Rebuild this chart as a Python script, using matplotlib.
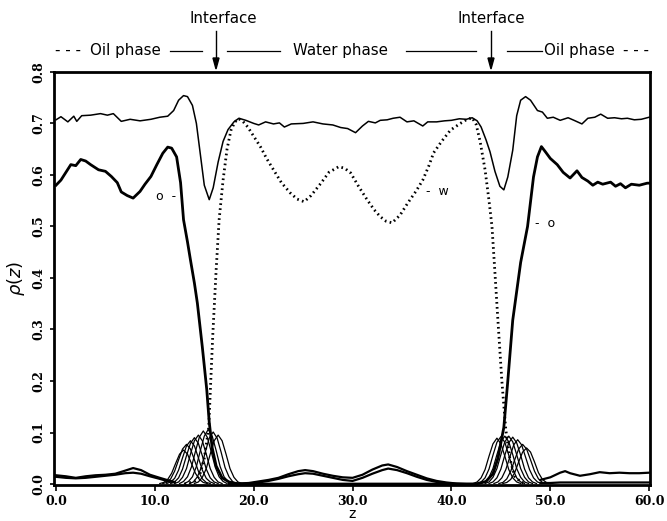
import numpy as np
import matplotlib
matplotlib.use("Agg")
import matplotlib.pyplot as plt
from matplotlib.lines import Line2D

# total density (thin solid line)
total_z = [0, 0.5, 1.2, 1.8, 2.1, 2.6, 3.5, 4.5, 5.2, 5.8, 6.6, 7.5, 8.5, 9.6, 10.5,
           11.3, 11.9, 12.4, 12.9, 13.3, 13.8, 14.2, 14.6, 15.0, 15.5, 15.9, 16.4,
           16.9, 17.4, 18.0, 18.5, 19.2, 20.0, 20.5, 21.2, 22.0, 22.6, 23.1, 23.8,
           25.0, 26.0, 27.0, 28.0, 28.8, 29.5, 30.3, 31.0, 31.6, 32.3, 32.8, 33.5,
           34.1, 34.8, 35.5, 36.2, 37.1, 37.6, 38.5, 39.3, 40.0, 40.8, 41.5, 42.1,
           42.6, 43.0, 43.5, 43.9, 44.4, 44.9, 45.3, 45.7, 46.2, 46.6, 47.0, 47.5,
           48.0, 48.7, 49.2, 49.7, 50.3, 51.0, 51.8, 52.4, 53.2, 53.8, 54.5, 55.1,
           55.8, 56.5, 57.2, 57.8, 58.5, 59.2, 60.0]
total_rho = [0.707, 0.713, 0.703, 0.714, 0.704, 0.715, 0.716, 0.719, 0.716, 0.719,
             0.704, 0.708, 0.705, 0.708, 0.712, 0.714, 0.725, 0.745, 0.754, 0.752,
             0.735, 0.700, 0.640, 0.580, 0.552, 0.575, 0.625, 0.665, 0.688, 0.703,
             0.710, 0.706, 0.700, 0.697, 0.703, 0.699, 0.701, 0.693, 0.699, 0.700,
             0.703, 0.699, 0.697, 0.692, 0.690, 0.682, 0.695, 0.704, 0.701, 0.706,
             0.707, 0.710, 0.712, 0.703, 0.705, 0.695, 0.703, 0.703, 0.705, 0.706,
             0.709, 0.708, 0.711, 0.705, 0.693, 0.668, 0.645, 0.607, 0.578, 0.571,
             0.596, 0.648, 0.715, 0.745, 0.752, 0.745, 0.725, 0.722, 0.710, 0.712,
             0.706, 0.711, 0.706, 0.699, 0.710, 0.712, 0.718, 0.710, 0.711, 0.709,
             0.710, 0.707, 0.708, 0.712]

# oil density (thick solid)
oil_z = [0, 0.5, 1.0, 1.5, 2.0, 2.5, 3.0, 3.5, 4.3, 5.0, 5.6, 6.2, 6.6, 7.2, 7.8,
         8.5, 9.0, 9.6, 10.2, 10.8, 11.3, 11.7, 12.2, 12.6, 12.9, 13.3, 13.6, 14.0,
         14.3, 14.8, 15.25, 15.5, 15.8, 16.2, 16.8, 17.5, 18.5, 42.5, 43.5, 44.2,
         44.7, 45.0, 45.3, 45.7, 46.2, 47.0, 47.7, 48.3, 48.7, 49.1, 49.5, 50.0,
         50.7, 51.3, 52.0, 52.7, 53.2, 53.8, 54.3, 54.8, 55.3, 56.1, 56.6, 57.1,
         57.6, 58.2, 59.0, 59.8, 60.0]
oil_rho = [0.580, 0.590, 0.605, 0.620, 0.618, 0.630, 0.627, 0.620, 0.610, 0.607,
           0.597, 0.585, 0.567, 0.560, 0.555, 0.568, 0.582, 0.597, 0.620, 0.642,
           0.654, 0.652, 0.635, 0.585, 0.513, 0.470, 0.435, 0.390, 0.351, 0.266,
           0.183, 0.120, 0.070, 0.035, 0.012, 0.004, 0.0, 0.0, 0.005, 0.020, 0.050,
           0.080, 0.110, 0.200, 0.318, 0.430, 0.500, 0.596, 0.635, 0.655, 0.645,
           0.632, 0.620, 0.605, 0.594, 0.608, 0.595, 0.588, 0.580, 0.586, 0.582,
           0.586, 0.578, 0.583, 0.575, 0.582, 0.580, 0.584, 0.584]

# water density (dotted)
water_z = [13.0, 14.0, 14.5, 15.0, 15.45, 15.85, 16.2, 16.5, 16.9, 17.3, 17.7, 18.1,
           18.5, 18.9, 19.4, 20.0, 20.7, 21.3, 22.0, 22.8, 23.7, 24.4, 25.1, 25.8,
           26.8, 27.6, 28.6, 29.2, 29.8, 30.6, 31.5, 32.2, 32.8, 33.4, 34.0, 34.8,
           35.6, 36.4, 37.1, 37.7, 38.2, 39.0, 39.9, 40.9, 41.5, 42.1, 42.5, 42.9,
           43.4, 43.8, 44.1, 44.4, 44.7, 45.1, 45.5, 45.9, 46.4, 47.0, 47.6]
water_rho = [0.0, 0.005, 0.015, 0.050, 0.110, 0.286, 0.416, 0.513, 0.590, 0.650,
             0.687, 0.703, 0.709, 0.704, 0.693, 0.675, 0.654, 0.632, 0.610, 0.585,
             0.565, 0.553, 0.548, 0.560, 0.584, 0.605, 0.616, 0.613, 0.604, 0.578,
             0.551, 0.532, 0.519, 0.510, 0.507, 0.522, 0.546, 0.568, 0.590, 0.617,
             0.643, 0.665, 0.687, 0.700, 0.707, 0.711, 0.698, 0.665, 0.610, 0.550,
             0.500, 0.410, 0.318, 0.200, 0.105, 0.050, 0.015, 0.004, 0.0]

# surfactant segment profiles near the interfaces
bump_dz = [-2.4, -2.0, -1.6, -1.2, -0.8, -0.4, 0.0, 0.4, 0.8, 1.2, 1.6, 2.0, 2.4]
left_centers = [12.9, 13.2, 13.6, 14.0, 14.4, 14.9, 15.4, 15.9, 16.4]
left_vals = [
    [0.001, 0.003, 0.009, 0.021, 0.040, 0.058, 0.066, 0.058, 0.040, 0.021, 0.009, 0.003, 0.001],
    [0.001, 0.003, 0.010, 0.025, 0.047, 0.068, 0.077, 0.068, 0.047, 0.025, 0.010, 0.003, 0.001],
    [0.001, 0.004, 0.011, 0.027, 0.051, 0.074, 0.084, 0.074, 0.051, 0.027, 0.011, 0.004, 0.001],
    [0.001, 0.004, 0.012, 0.029, 0.055, 0.079, 0.090, 0.079, 0.055, 0.029, 0.012, 0.004, 0.001],
    [0.001, 0.004, 0.013, 0.030, 0.058, 0.084, 0.095, 0.084, 0.058, 0.030, 0.013, 0.004, 0.001],
    [0.001, 0.005, 0.014, 0.033, 0.063, 0.091, 0.103, 0.091, 0.063, 0.033, 0.014, 0.005, 0.001],
    [0.001, 0.005, 0.014, 0.034, 0.065, 0.093, 0.106, 0.093, 0.065, 0.034, 0.014, 0.005, 0.001],
    [0.001, 0.004, 0.014, 0.032, 0.062, 0.089, 0.101, 0.089, 0.062, 0.032, 0.014, 0.004, 0.001],
    [0.001, 0.004, 0.013, 0.030, 0.058, 0.084, 0.095, 0.084, 0.058, 0.030, 0.013, 0.004, 0.001],
]
right_centers = [44.6, 45.0, 45.4, 45.8, 46.2, 46.7, 47.2, 47.6]
right_vals = [
    [0.001, 0.004, 0.012, 0.028, 0.054, 0.078, 0.089, 0.078, 0.054, 0.028, 0.012, 0.004, 0.001],
    [0.001, 0.004, 0.012, 0.029, 0.056, 0.081, 0.092, 0.081, 0.056, 0.029, 0.012, 0.004, 0.001],
    [0.001, 0.004, 0.013, 0.030, 0.057, 0.082, 0.093, 0.082, 0.057, 0.030, 0.013, 0.004, 0.001],
    [0.001, 0.004, 0.013, 0.030, 0.057, 0.082, 0.093, 0.082, 0.057, 0.030, 0.013, 0.004, 0.001],
    [0.001, 0.004, 0.012, 0.029, 0.056, 0.080, 0.091, 0.080, 0.056, 0.029, 0.012, 0.004, 0.001],
    [0.001, 0.004, 0.012, 0.028, 0.052, 0.076, 0.086, 0.076, 0.052, 0.028, 0.012, 0.004, 0.001],
    [0.001, 0.003, 0.010, 0.025, 0.047, 0.068, 0.077, 0.068, 0.047, 0.025, 0.010, 0.003, 0.001],
    [0.001, 0.003, 0.009, 0.022, 0.043, 0.062, 0.070, 0.062, 0.043, 0.022, 0.009, 0.003, 0.001],
]

# low background profiles (bulk regions)
bg_left_z = [0, 1, 2, 3, 4, 5, 6, 7, 7.8, 8.6, 9.5, 10.5, 11.2, 12.0]
bg_left_hi = [0.017, 0.015, 0.012, 0.015, 0.017, 0.018, 0.020, 0.026, 0.031, 0.027, 0.018, 0.012, 0.008, 0.004]
bg_left_lo = [0.014, 0.012, 0.011, 0.012, 0.014, 0.016, 0.018, 0.021, 0.022, 0.020, 0.015, 0.010, 0.006, 0.003]
bg_mid_z = [17.5, 18.5, 19.5, 20.5, 21.5, 22.5, 23.5, 24.5, 25.2, 26, 27, 28, 29, 30, 31, 32,
            33, 33.6, 34.5, 35.5, 36.5, 37.5, 38.5, 39.5, 40.5, 41.5, 42.5]
bg_mid_hi = [0.002, 0.001, 0.002, 0.005, 0.008, 0.012, 0.019, 0.025, 0.027, 0.025, 0.020, 0.016,
             0.013, 0.012, 0.018, 0.028, 0.036, 0.038, 0.033, 0.025, 0.018, 0.011, 0.006, 0.003,
             0.001, 0.0, 0.0]
bg_mid_lo = [0.0, 0.0, 0.001, 0.003, 0.006, 0.010, 0.015, 0.019, 0.021, 0.020, 0.016, 0.012,
             0.008, 0.006, 0.012, 0.020, 0.027, 0.030, 0.027, 0.021, 0.014, 0.008, 0.004, 0.001,
             0.0, 0.0, 0.0]
bg_right_z = [49.0, 50, 51, 51.5, 52, 53, 54, 55, 56, 57, 58, 59, 60]
bg_right_hi = [0.008, 0.013, 0.022, 0.025, 0.021, 0.016, 0.019, 0.023, 0.021, 0.022, 0.021, 0.021, 0.022]
bg_right_lo = [0.002, 0.002, 0.003, 0.003, 0.003, 0.003, 0.003, 0.003, 0.003, 0.003, 0.003, 0.003, 0.003]

xticks = [0, 10, 20, 30, 40, 50, 60]
yticks = [0.0, 0.1, 0.2, 0.3, 0.4, 0.5, 0.6, 0.7, 0.8]

fig = plt.figure(figsize=(6.67, 5.21), dpi=100)
ax = fig.add_axes([0.081, 0.069, 0.893, 0.793])

ax.plot(total_z, total_rho, color='black', linewidth=1.1)
ax.plot(oil_z, oil_rho, color='black', linewidth=2.0)
ax.plot(water_z, water_rho, color='black', linewidth=2.0, linestyle=(0, (0.6, 1.2)))

for c, v in zip(left_centers, left_vals):
    ax.plot(np.array(bump_dz) + c, v, color='black', linewidth=0.9)
for c, v in zip(right_centers, right_vals):
    ax.plot(np.array(bump_dz) + c, v, color='black', linewidth=0.9)

for zz, hi, lo in [(bg_left_z, bg_left_hi, bg_left_lo),
                   (bg_mid_z, bg_mid_hi, bg_mid_lo),
                   (bg_right_z, bg_right_hi, bg_right_lo)]:
    ax.plot(zz, hi, color='black', linewidth=1.6)
    ax.plot(zz, lo, color='black', linewidth=1.6)

ax.text(11.1, 0.559, 'o  -', fontsize=9, ha='center', va='center')
ax.text(38.6, 0.567, '-  w', fontsize=9, ha='center', va='center')
ax.text(49.5, 0.505, '-  o', fontsize=9, ha='center', va='center')

ax.set_xlim(-0.2, 60.05)
ax.set_ylim(-0.002, 0.8)
ax.set_xticks(xticks)
ax.set_xticklabels(['%.1f' % t for t in xticks])
ax.set_yticks(yticks)
ax.set_yticklabels(['%.1f' % t for t in yticks])
for lab in ax.get_xticklabels() + ax.get_yticklabels():
    lab.set_fontfamily('DejaVu Serif')
    lab.set_fontweight('bold')
    lab.set_fontsize(9)
ax.tick_params(axis='y', labelrotation=90, direction='out', length=3, width=1.2, pad=3)
ax.tick_params(axis='x', direction='out', length=4, width=1.2, pad=3)
for lab in ax.get_yticklabels():
    lab.set_va('center')
for s in ax.spines.values():
    s.set_linewidth(2.0)

ax.set_ylabel(r'$\rho(z)$', fontsize=13, labelpad=4)
fig.text(0.528, 0.014, 'z', fontsize=10, ha='center', va='center')

# top annotations
fs = 10.8
fig.text(0.334, 0.965, 'Interface', fontsize=fs, ha='center', va='center')
fig.text(0.736, 0.965, 'Interface', fontsize=fs, ha='center', va='center')
ty = 0.903
fig.text(0.083, ty, '- - -', fontsize=fs, ha='left', va='center')
fig.text(0.135, ty, 'Oil phase', fontsize=fs, ha='left', va='center')
fig.text(0.439, ty, 'Water phase', fontsize=fs, ha='left', va='center')
fig.text(0.816, ty, 'Oil phase', fontsize=fs, ha='left', va='center')
fig.text(0.934, ty, '- - -', fontsize=fs, ha='left', va='center')
for x0, x1 in [(170, 202), (227, 280), (406, 476), (507, 542)]:
    fig.add_artist(Line2D([x0 / 667, x1 / 667], [ty, ty], color='black', linewidth=0.9))
for xp in [216, 491]:
    fig.add_artist(Line2D([xp / 667, xp / 667], [1 - 31 / 521, 1 - 60 / 521], color='black', linewidth=1.0))
    fig.patches.append(plt.Polygon([[xp / 667 - 0.0045, 1 - 58 / 521], [xp / 667 + 0.0045, 1 - 58 / 521],
                                    [xp / 667, 1 - 69 / 521]], closed=True, color='black',
                                   transform=fig.transFigure, figure=fig))

fig.savefig('out.png', dpi=100)
